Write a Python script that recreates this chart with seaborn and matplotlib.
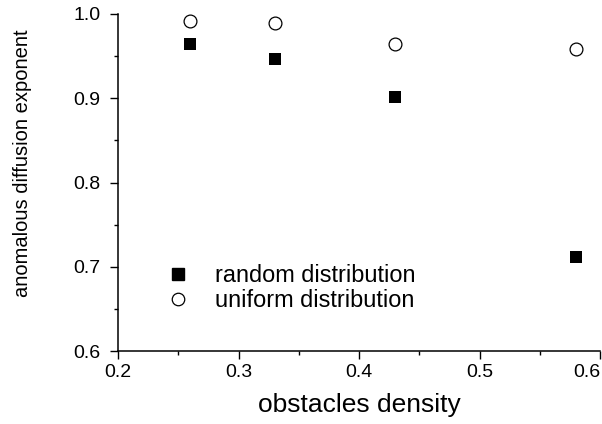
import matplotlib
matplotlib.use("Agg")
import matplotlib.pyplot as plt
import seaborn as sns
import pandas as pd
from matplotlib.ticker import MultipleLocator
from matplotlib.lines import Line2D

density = [0.26, 0.33, 0.43, 0.58]
random_vals = [0.964, 0.947, 0.902, 0.712]
uniform_vals = [0.992, 0.989, 0.964, 0.959]
series_names = ["random distribution", "uniform distribution"]
x_ticks = [0.2, 0.3, 0.4, 0.5, 0.6]
y_ticks = [0.6, 0.7, 0.8, 0.9, 1.0]

df = pd.DataFrame({
    "density": density * 2,
    "exponent": random_vals + uniform_vals,
    "series": [series_names[0]] * len(density) + [series_names[1]] * len(density),
})

sns.set_theme(style="ticks")
plt.rcParams["font.family"] = ["Liberation Sans", "DejaVu Sans"]
plt.rcParams["text.color"] = "black"
plt.rcParams["axes.labelcolor"] = "black"

fig = plt.figure(figsize=(6.02, 4.24), dpi=100)
ax = fig.add_axes([0.196, 0.172, 0.801, 0.795])

sns.scatterplot(data=df[df.series == series_names[0]], x="density", y="exponent",
                marker="s", s=80, color="black", edgecolor="black", linewidth=0,
                ax=ax, legend=False)
sns.scatterplot(data=df[df.series == series_names[1]], x="density", y="exponent",
                marker="o", s=85, facecolor="white", edgecolor="black", linewidth=0.9,
                ax=ax, legend=False)

ax.set_xlim(0.2, 0.6)
ax.set_ylim(0.6, 1.0)
ax.set_xticks(x_ticks)
ax.set_yticks(y_ticks)
ax.xaxis.set_minor_locator(MultipleLocator(0.05))
ax.yaxis.set_minor_locator(MultipleLocator(0.05))
ax.set_xticklabels([f"{v:.1f}" for v in x_ticks])
ax.set_yticklabels([f"{v:.1f}" for v in y_ticks])
ax.tick_params(which="major", direction="out", length=5.5, width=1, labelsize=14, colors="black")
ax.tick_params(which="minor", direction="out", length=3, width=1, colors="black")
ax.tick_params(axis="x", which="major", pad=3.5)
ax.tick_params(axis="y", which="major", pad=7)
ax.get_xticklabels()[-1].set_horizontalalignment("right")
for side in ["top", "right"]:
    ax.spines[side].set_visible(False)
for side in ["left", "bottom"]:
    ax.spines[side].set_linewidth(1.1)
    ax.spines[side].set_color("black")

ax.set_xlabel("obstacles density", fontsize=19, color="black")
ax.xaxis.set_label_coords(0.5, -0.125)
ax.xaxis.label.set_verticalalignment("top")
ax.set_ylabel("anomalous diffusion exponent", fontsize=14.5, color="black")
ax.yaxis.set_label_coords(-0.178, 0.556)

handles = [
    Line2D([], [], marker="s", linestyle="none", markersize=9, markerfacecolor="black", markeredgecolor="black"),
    Line2D([], [], marker="o", linestyle="none", markersize=9, markerfacecolor="white", markeredgecolor="black", markeredgewidth=0.9),
]
leg = ax.legend(handles, series_names, loc="upper left", bbox_to_anchor=(0.081, 0.287), frameon=False,
                fontsize=16.9, handlelength=1.0, handletextpad=1.08, labelspacing=0.09, borderaxespad=0)
for t in leg.get_texts():
    t.set_color("black")

fig.savefig("out.png", dpi=100)
